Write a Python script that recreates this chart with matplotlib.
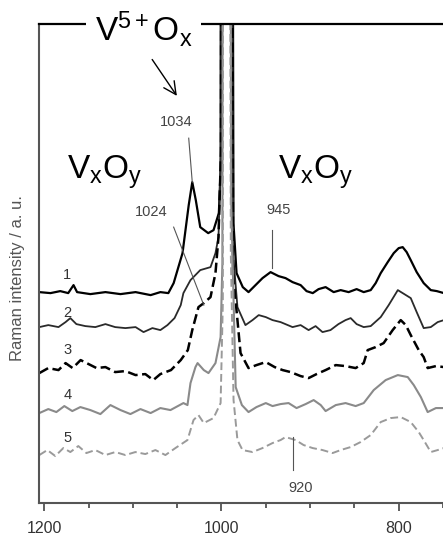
import matplotlib
matplotlib.use("Agg")
import matplotlib.pyplot as plt

plt.rcParams['font.family'] = ['Liberation Sans', 'DejaVu Sans']
plt.rcParams['mathtext.fontset'] = 'custom'
plt.rcParams['mathtext.rm'] = 'Liberation Sans'
plt.rcParams['mathtext.it'] = 'Liberation Sans'

# spectra (wavenumber / cm-1, intensity in arbitrary units)
# the strong band near 995 runs off the top of the frame
wn_1 = [1205.6, 1193, 1182, 1173, 1167, 1163, 1148, 1131, 1114, 1097, 1080, 1069, 1060,
        1054, 1044, 1037, 1033, 1029, 1024, 1015, 1009, 1003, 1001, 1000.5, 988, 986.5,
        983, 976, 969.5, 961.6, 953.7, 944.6, 935.6, 927.7, 919.8, 910.7, 904, 897, 890.4,
        882.5, 873.4, 865.5, 856.5, 847.5, 839.5, 831.6, 826, 820.3, 812.4, 805.6, 800,
        795.5, 791, 786.4, 779.7, 771.8, 763.8, 757, 749]
int_1 = [211, 210, 212, 210, 218, 211, 209, 211, 209, 211, 208, 211, 210,
         220, 250, 298, 321, 303, 276, 270, 273, 290, 333, 900, 900, 280,
         230, 216, 211, 218, 225, 231, 227, 225, 221, 218, 212, 210, 214,
         216, 211, 213, 211, 214, 211, 213, 220, 230, 241, 250, 255,
         256, 251, 243, 231, 220, 213, 212, 210]

wn_2 = [1205.6, 1195.5, 1184, 1176, 1170.6, 1163.8, 1153.7, 1142.4, 1131, 1120, 1108.5,
        1097, 1088, 1078, 1069, 1061, 1053, 1046, 1043, 1035, 1024, 1012.4, 1006.8,
        1003.4, 1000.5, 1000, 988.5, 987, 982, 973, 965, 958, 950, 942.4, 933.3, 919.8,
        910.7, 901.7, 893.8, 886, 877, 868, 860, 854.2, 847.5, 839.5, 831.6, 820.3, 811.3,
        801, 795.5, 786.4, 779.7, 771.8, 763.8, 756, 749]
int_2 = [176, 178, 176, 181, 185, 179, 177, 176, 179, 176, 175,
         176, 171, 175, 173, 178, 185, 198, 210, 223, 233, 236, 250,
         266, 353, 900, 900, 250, 196, 178, 183, 188, 186, 183, 181, 176,
         178, 173, 177, 171, 173, 179, 183, 185, 179, 176, 177, 186, 198,
         213, 210, 205, 191, 175, 176, 181, 183]

wn_3 = [1205.6, 1195.5, 1184, 1176, 1168, 1159, 1150, 1141, 1131, 1120, 1108.5, 1097,
        1086, 1077, 1069, 1057, 1046, 1038, 1033, 1026, 1020, 1012.4, 1006.8, 1003.4,
        1000.5, 1000, 988.5, 987, 978.5, 969.5, 960.5, 950, 940, 931, 922, 910.7, 901.7,
        892.7, 882.5, 871, 860, 848.6, 839.5, 835, 826, 817, 806.8, 797.7, 792, 786.4,
        777.4, 771.8, 767.3, 758, 749]
int_3 = [130, 135, 133, 140, 135, 143, 139, 135, 136, 131, 132, 128,
         129, 123, 129, 133, 143, 153, 173, 196, 200, 206, 230, 266,
         353, 900, 900, 230, 150, 135, 138, 141, 136, 133, 131, 127, 125,
         129, 133, 138, 137, 135, 140, 153, 156, 160, 173, 183, 178, 168,
         153, 146, 135, 137, 136]

wn_4 = [1205.6, 1195.5, 1186.4, 1177.4, 1168.4, 1159.3, 1148, 1136.7, 1125.4, 1114,
        1102.8, 1091.5, 1080, 1069, 1057.6, 1043, 1038.4, 1035, 1029.4, 1027, 1020,
        1014.7, 1006.8, 1001, 999, 998.5, 990.5, 989, 984, 977, 969.5, 960.5, 950, 942.4,
        933.3, 924.3, 915.3, 905, 896, 888, 882.5, 871, 860, 848.6, 839.5, 828.2,
        814.7, 801, 789.8, 783, 775, 767.3, 758, 749]
int_4 = [90, 94, 91, 97, 92, 96, 93, 89, 98, 93,
         89, 94, 90, 95, 93, 100, 98, 120, 136, 140, 133,
         130, 140, 166, 240, 900, 900, 300, 116, 98, 91, 96, 100, 97,
         99, 100, 95, 99, 103, 98, 92, 98, 100, 97, 100, 113,
         123, 128, 126, 118, 106, 91, 95, 95]

wn_5 = [1205.6, 1196.6, 1187.6, 1178.5, 1170.6, 1161.6, 1152.5, 1142.4, 1131, 1119.8,
        1108.5, 1097.2, 1086, 1074.6, 1063.3, 1052, 1038.4, 1031.6, 1026, 1020, 1009,
        1001, 998.5, 998, 991, 989.5, 986.4, 982, 976.3, 965, 953.7, 942.4, 933.3, 927.7,
        916.4, 907.3, 897.2, 886, 874.6, 865.5, 854.2, 843, 831.6, 820.3, 809, 797.7,
        786.4, 777.4, 771.8, 763.8, 756, 749]
int_5 = [48, 53, 47, 55, 51, 57, 50, 53, 48, 51,
         48, 51, 49, 53, 48, 55, 63, 83, 88, 80, 85,
         100, 200, 900, 900, 250, 103, 63, 53, 51, 55, 60, 63, 66,
         63, 58, 55, 53, 50, 53, 56, 61, 68, 81, 85, 86,
         81, 71, 63, 51, 53, 55]

trace_names = ['1', '2', '3', '4', '5']
name_levels = [228, 190, 153, 108, 65]

# peak annotations: label, text position, leader start, leader end
peak_labels = ['1034', '1024', '945', '920']
peak_text_x = [1050.8, 1079, 935.6, 910.7]
peak_text_y = [381, 291, 293, 15]
leader_x0 = [1037, 1054, 943.5, 919]
leader_y0 = [365, 276, 273, 66]
leader_x1 = [1033, 1020, 943.5, 919]
leader_y1 = [321, 198, 235, 33]

fig = plt.figure(figsize=(4.43, 5.38), dpi=100)
ax = fig.add_axes([0.088, 0.065, 0.912, 0.890])

ax.plot(wn_1, int_1, color='black', lw=1.6)
ax.plot(wn_2, int_2, color='#2a2a2a', lw=1.3)
ax.plot(wn_3, int_3, color='black', lw=1.8, dashes=(4, 1.8))
ax.plot(wn_4, int_4, color='#8a8a8a', lw=1.5)
ax.plot(wn_5, int_5, color='#9a9a9a', lw=1.4, dashes=(4, 2))

for name, lev in zip(trace_names, name_levels):
    ax.text(1174, lev, name, fontsize=10.5, color='#333333', ha='center', va='center')

for i, lab in enumerate(peak_labels):
    ax.plot([leader_x0[i], leader_x1[i]], [leader_y0[i], leader_y1[i]],
            color='#555555', lw=0.8)
    ax.text(peak_text_x[i], peak_text_y[i], lab, fontsize=10.5, color='#444444',
            ha='center', va='center')

ax.set_xlim(1206, 750)
ax.set_ylim(0, 479)

ax.text(1088, 474, r'$\mathrm{V^{5+}O_x}$', fontsize=24, ha='center', va='center',
        zorder=10, clip_on=False,
        bbox=dict(facecolor='white', edgecolor='none', pad=6))
ax.text(1132, 325, r'$\mathrm{V_xO_y}$', fontsize=24, ha='center', va='baseline')
ax.text(894, 325, r'$\mathrm{V_xO_y}$', fontsize=24, ha='center', va='baseline')
ax.annotate('', xy=(1048.6, 405), xytext=(1080, 446),
            arrowprops=dict(arrowstyle='->,head_length=0.9,head_width=0.45',
                            color='black', lw=1.0))

ax.set_ylabel('Raman intensity / a. u.', fontsize=12, color='#555555')
ax.yaxis.set_label_coords(-0.035, 0.47)
ax.set_yticks([])

ax.set_xticks([1200, 1000, 800])
ax.set_xticks([1150, 1100, 1050, 950, 900, 850, 750], minor=True)
ax.tick_params(axis='x', which='major', direction='out', length=6, width=1.2,
               color='#444444', labelsize=11.5, labelcolor='#333333', pad=7)
ax.tick_params(axis='x', which='minor', direction='out', length=3.5, width=1.2,
               color='#444444')

ax.spines['right'].set_visible(False)
ax.spines['top'].set_color('black')
ax.spines['top'].set_linewidth(1.6)
ax.spines['left'].set_color('#555555')
ax.spines['left'].set_linewidth(1.5)
ax.spines['bottom'].set_color('#555555')
ax.spines['bottom'].set_linewidth(1.5)

fig.savefig('out.png', dpi=100)
